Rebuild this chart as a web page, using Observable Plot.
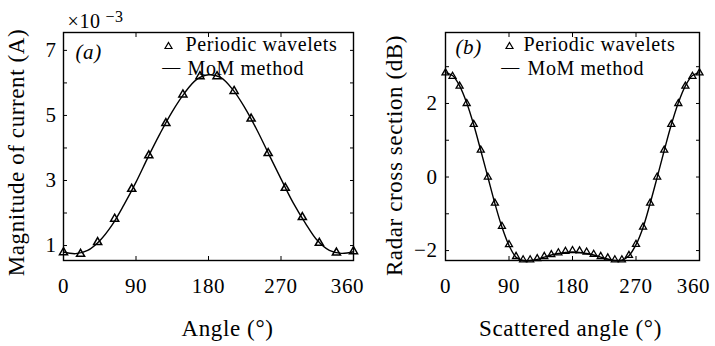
<!DOCTYPE html>
<html><head><meta charset="utf-8">
<script src="https://cdn.jsdelivr.net/npm/d3@7"></script>
<script src="https://cdn.jsdelivr.net/npm/@observablehq/plot@0.6"></script>
<style>
body{margin:0;background:#fff;}
#wrap{position:relative;width:715px;height:346px;overflow:hidden;background:#fff;}
#pa,#pb{position:absolute;top:0;}
#pa{left:0;} #pb{left:360px;}
</style></head><body>
<div id="wrap"><div id="pa"></div><div id="pb"></div></div>
<script>
// ---- Panel (a): magnitude of current (x10^-3 A) ----
const angleA   = [0, 21.2, 42.4, 63.5, 84.7, 105.9, 127.1, 148.2, 169.4, 190.6, 211.8, 232.9, 254.1, 275.3, 296.5, 317.6, 338.8, 360];
const waveletA = [0.79, 0.74, 1.10, 1.82, 2.74, 3.77, 4.76, 5.64, 6.20, 6.20, 5.75, 4.90, 3.84, 2.77, 1.87, 1.08, 0.78, 0.82];
const momAngleA = [0, 15, 30, 45, 60, 75, 90, 105, 120, 135, 150, 165, 180, 195, 210, 225, 240, 255, 270, 285, 300, 315, 330, 345, 360];
const momA      = [0.80, 0.75, 0.85, 1.15, 1.62, 2.25, 2.95, 3.72, 4.45, 5.12, 5.68, 6.10, 6.25, 6.17, 5.80, 5.24, 4.56, 3.80, 3.05, 2.32, 1.70, 1.16, 0.85, 0.76, 0.81];

// ---- Panel (b): radar cross section (dB) ----
const angleB   = [0,10,20,30,40,50,60,70,80,90,100,110,120,130,140,150,160,170,180,190,200,210,220,230,240,250,260,270,280,290,300,310,320,330,340,350,360];
const waveletB = [2.83, 2.74, 2.47, 2.00, 1.43, 0.73, 0.00, -0.71, -1.34, -1.84, -2.16, -2.25, -2.25, -2.22, -2.16, -2.11, -2.06, -2.02, -2.00, -2.01, -2.04, -2.10, -2.16, -2.20, -2.25, -2.25, -2.13, -1.83, -1.36, -0.71, 0.00, 0.73, 1.43, 2.00, 2.47, 2.74, 2.83];
const momB     = [2.84, 2.76, 2.48, 2.02, 1.42, 0.72, 0.00, -0.72, -1.36, -1.86, -2.18, -2.27, -2.27, -2.24, -2.18, -2.12, -2.08, -2.05, -2.04, -2.05, -2.08, -2.12, -2.18, -2.23, -2.27, -2.26, -2.14, -1.84, -1.37, -0.72, -0.01, 0.72, 1.42, 2.02, 2.48, 2.76, 2.84];

// ---- ticks and labels ----
const xTicks = [0, 90, 180, 270];
const xLast = [360];
const yTicksA = [1, 2, 3, 4, 5, 6, 7];
const yLabelsA = [1, 3, 5, 7];
const yTicksB = [-2, -1, 0, 1, 2, 3];
const yLabelsB = [-2, 0, 2];
const legendLabels = ["Periodic wavelets", "MoM method"];
const panelTags = ["(a)", "(b)"];
const xTitles = ["Angle (°)", "Scattered angle (°)"];
const yTitles = ["Magnitude of current (A)", "Radar cross section (dB)"];
const expBase = ["×10"], expPow = ["−3"];

const dataA = angleA.map((a, i) => ({a, v: waveletA[i]}));
const lineA = momAngleA.map((a, i) => ({a, v: momA[i]}));
const dataB = angleB.map((a, i) => ({a, v: waveletB[i]}));
const lineB = angleB.map((a, i) => ({a, v: momB[i]}));

const FONT = "Liberation Serif";
const fmt = d => d < 0 ? "\u2212" + Math.abs(d) : String(d);

function axes(yTicks, yLabels, padY) {
  return [
    Plot.axisY({ticks: yTicks, tickSize: -4, tickFormat: () => "", label: null}),
    Plot.axisY({anchor: "right", ticks: yTicks, tickSize: -4, tickFormat: () => "", label: null}),
    Plot.axisY({ticks: yLabels, tickSize: 0, tickPadding: padY, tickFormat: fmt, label: null, fontSize: 21}),
    Plot.axisX({ticks: xTicks, tickSize: -4, tickFormat: () => "", label: null}),
    Plot.axisX({anchor: "top", ticks: xTicks, tickSize: -4, tickFormat: () => "", label: null}),
    Plot.axisX({ticks: xTicks, tickSize: 0, tickPadding: 18, label: null, fontSize: 21}),
    Plot.axisX({ticks: xLast, tickSize: 0, tickPadding: 18, label: null, fontSize: 21, dx: -6})
  ];
}

function legend(o) {
  return [
    Plot.dot([0], {frameAnchor: "top-left", dx: o.tri, dy: 14, symbol: "triangle", r: 2.6, stroke: "black", strokeWidth: 1.2, fill: "none"}),
    Plot.text([legendLabels[0]], {text: d => d, frameAnchor: "top-left", dx: o.t1, dy: 12, textAnchor: "start", lineAnchor: "middle", fontSize: 20}),
    Plot.text(["\u2014"], {text: d => d, frameAnchor: "top-left", dx: o.dash, dy: 35, textAnchor: "middle", lineAnchor: "middle", fontSize: 18}),
    Plot.text([legendLabels[1]], {text: d => d, frameAnchor: "top-left", dx: o.t2, dy: 36, textAnchor: "start", lineAnchor: "middle", fontSize: 20}),
    Plot.text([o.tag], {text: d => d, frameAnchor: "top-left", dx: o.tagx, dy: o.tagy, textAnchor: "start", lineAnchor: "middle", fontSize: 21, fontStyle: "italic"})
  ];
}

const plotA = Plot.plot({
  width: 375, height: 346,
  marginLeft: 63, marginRight: 22, marginTop: 32, marginBottom: 86,
  style: {fontFamily: FONT, fontSize: "20px", background: "transparent", color: "black", letterSpacing: "0.6px"},
  x: {domain: [0, 360]},
  y: {domain: [0.54, 7.55]},
  marks: [
    Plot.frame({stroke: "black", strokeWidth: 1.4}),
    ...axes(yTicksA, yLabelsA, 7),
    Plot.line(lineA, {x: "a", y: "v", stroke: "black", strokeWidth: 1.4, curve: "catmull-rom"}),
    Plot.dot(dataA, {x: "a", y: "v", symbol: "triangle", r: 3, stroke: "black", strokeWidth: 1.5, fill: "none"}),
    ...legend({tri: 105, t1: 122, dash: 108, t2: 124, tag: panelTags[0], tagx: 12, tagy: 20}),
    Plot.text(expBase, {text: d => d, frameAnchor: "top-left", dx: 4, dy: -11, textAnchor: "start", lineAnchor: "middle", fontSize: 20}),
    Plot.text(expPow, {text: d => d, frameAnchor: "top-left", dx: 42, dy: -16, textAnchor: "start", lineAnchor: "middle", fontSize: 16}),
    Plot.text([xTitles[0]], {text: d => d, frameAnchor: "bottom", dx: 19, dy: 68, textAnchor: "middle", lineAnchor: "middle", fontSize: 23}),
    Plot.text([yTitles[0]], {text: d => d, frameAnchor: "left", dx: -47, dy: 6, rotate: -90, textAnchor: "middle", lineAnchor: "middle", fontSize: 23})
  ]
});
document.getElementById("pa").append(plotA);

const plotB = Plot.plot({
  width: 355, height: 346,
  marginLeft: 85, marginRight: 16, marginTop: 32, marginBottom: 86,
  style: {fontFamily: FONT, fontSize: "20px", background: "transparent", color: "black", letterSpacing: "0.6px"},
  x: {domain: [0, 360]},
  y: {domain: [-2.27, 3.93]},
  marks: [
    Plot.frame({stroke: "black", strokeWidth: 1.4}),
    ...axes(yTicksB, yLabelsB, 8),
    Plot.line(lineB, {x: "a", y: "v", stroke: "black", strokeWidth: 1.4, curve: "catmull-rom"}),
    Plot.dot(dataB, {x: "a", y: "v", symbol: "triangle", r: 2.6, stroke: "black", strokeWidth: 1.3, fill: "none"}),
    ...legend({tri: 64, t1: 78, dash: 65, t2: 82, tag: panelTags[1], tagx: 10, tagy: 15}),
    Plot.text([xTitles[1]], {text: d => d, frameAnchor: "bottom", dx: -2, dy: 68, textAnchor: "middle", lineAnchor: "middle", fontSize: 23}),
    Plot.text([yTitles[1]], {text: d => d, frameAnchor: "left", dx: -51, dy: 9, rotate: -90, textAnchor: "middle", lineAnchor: "middle", fontSize: 23})
  ]
});
document.getElementById("pb").append(plotB);
</script>
</body></html>
